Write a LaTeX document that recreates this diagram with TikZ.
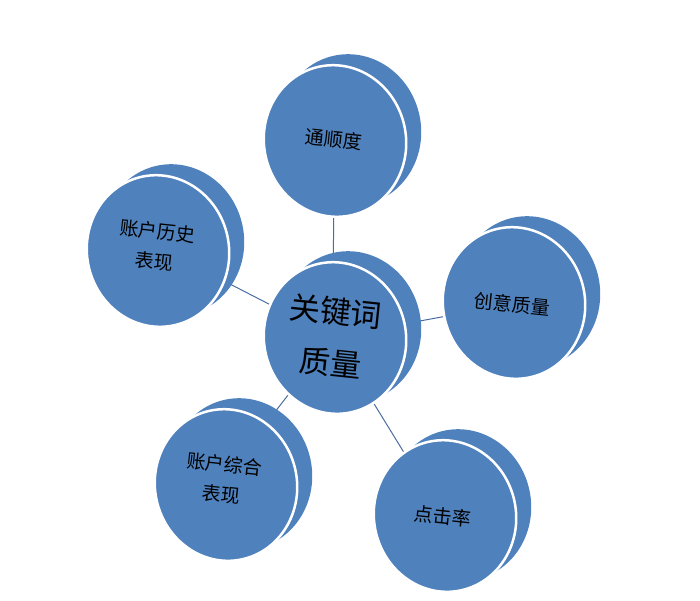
\documentclass[tikz,border=0pt]{standalone}
\usepackage{fontspec}
\setmainfont{Noto Sans CJK SC}
\usetikzlibrary{backgrounds}
\definecolor{discblue}{HTML}{4F81BD}
\definecolor{linkblue}{HTML}{4A6E9E}
\begin{document}
\begin{tikzpicture}[x=1pt,y=-1pt,
    discback/.style={fill=discblue},
    discfront/.style={fill=discblue,draw=white,line width=2.5pt},
    disctext/.style={rotate=-6,align=center,font=\fontsize{19}{30}\selectfont},
    link/.style={draw=linkblue,line width=1pt}]
  \useasboundingbox (0,0) rectangle (700,600);

  % Discs: back part first, then the front face
  \foreach \x/\y in {335/338, 335/141, 158/251, 514/303, 226/485, 445/516} {
    \fill[discback,rotate around={12:(\x+15,\y-11)}] (\x+15,\y-11) ellipse (71 and 76);
    \filldraw[discfront,rotate around={12:(\x,\y)}] (\x,\y) ellipse (71 and 76);
  }

  % Labels
  \node[disctext,font=\fontsize{31}{52}\selectfont] (core) at (333,337) {关键词\\质量};
  \node[disctext] (fluency) at (334,139) {通顺度};
  \node[disctext] (history) at (156,246) {账户历史\\表现};
  \node[disctext] (creative) at (512,304) {创意质量};
  \node[disctext] (account) at (223,479) {账户综合\\表现};
  \node[disctext] (ctr) at (443,516) {点击率};

  % Links, behind the discs
  \begin{pgfonlayer}{background}
    \draw[link] (core.center) -- (fluency.center);
    \draw[link] (core.center) -- (history.center);
    \draw[link] (core.center) -- (creative.center);
    \draw[link] (core.center) -- (account.center);
    \draw[link] (core.center) -- (ctr.center);
  \end{pgfonlayer}
\end{tikzpicture}
\end{document}
